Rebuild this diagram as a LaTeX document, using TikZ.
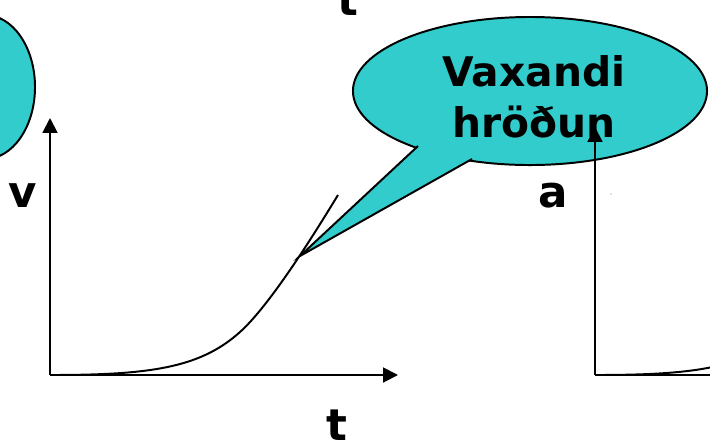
\documentclass[tikz,border=0pt]{standalone}
\usepackage{fontspec}
\setmainfont{DejaVu Sans}
\usetikzlibrary{arrows.meta,shapes.geometric}
\definecolor{bubblecyan}{RGB}{51,204,204}
\tikzset{
  axis/.style={line width=1.4pt,-{Triangle[length=10.5pt,width=10.5pt]}},
  bubble/.style={ellipse,draw,line width=1.4pt,fill=bubblecyan,inner sep=0pt,outer sep=0pt},
  lbl/.style={font=\fontsize{31}{36}\selectfont\bfseries,inner sep=0pt,anchor=base},
}
\begin{document}
\begin{tikzpicture}[x=0.025cm,y=-0.025cm]
\useasboundingbox (0,0) rectangle (710,443);
% bubble left over from the previous graph
\node[bubble,minimum width=2.5cm,minimum height=3.6cm] (oldbubble) at (-15,87) {};
\node[lbl] (ttop) at (348,15) {t};
% v against t
\coordinate (o1) at (50,375);
\coordinate (vtop) at (50,118);
\coordinate (tend) at (398,375);
\draw[line width=1.4pt] (o1) .. controls (150,375) and (200,368) .. (240,332)
  .. controls (270,305) and (313,236) .. (338,195);
\draw[axis] (o1) -- (vtop);
\draw[axis] (o1) -- (tend);
\node[lbl] (vlbl) at (23,207) {v};
\node[lbl] (tlbl) at (337,440) {t};
% callout
\node[bubble,minimum width=8.85cm,minimum height=3.7cm] (bubble) at (530,91) {};
\coordinate (b1) at (418,146);
\coordinate (b2) at (472,159);
\coordinate (tip) at (300,256);
\fill[bubblecyan] (b1) -- (tip) -- (b2) -- cycle;
\draw[line width=1.4pt,line join=miter] (b1) -- (tip) -- (b2);
\node[font=\fontsize{29}{36}\selectfont\bfseries,align=center,inner sep=0pt] (txt) at (534,97) {Vaxandi\\hröðun};
% a against t
\coordinate (o2) at (595,375);
\coordinate (atop) at (595,127);
\coordinate (tend2) at (943,375);
\draw[line width=1.4pt] (o2) .. controls (695,375) and (745,368) .. (785,332)
  .. controls (815,305) and (858,236) .. (883,195);
\draw[axis] (o2) -- (atop);
\draw[axis] (o2) -- (tend2);
\node[lbl] (albl) at (553,207) {a};
\fill[gray] (611,194) circle[radius=0.6];
\end{tikzpicture}
\end{document}
